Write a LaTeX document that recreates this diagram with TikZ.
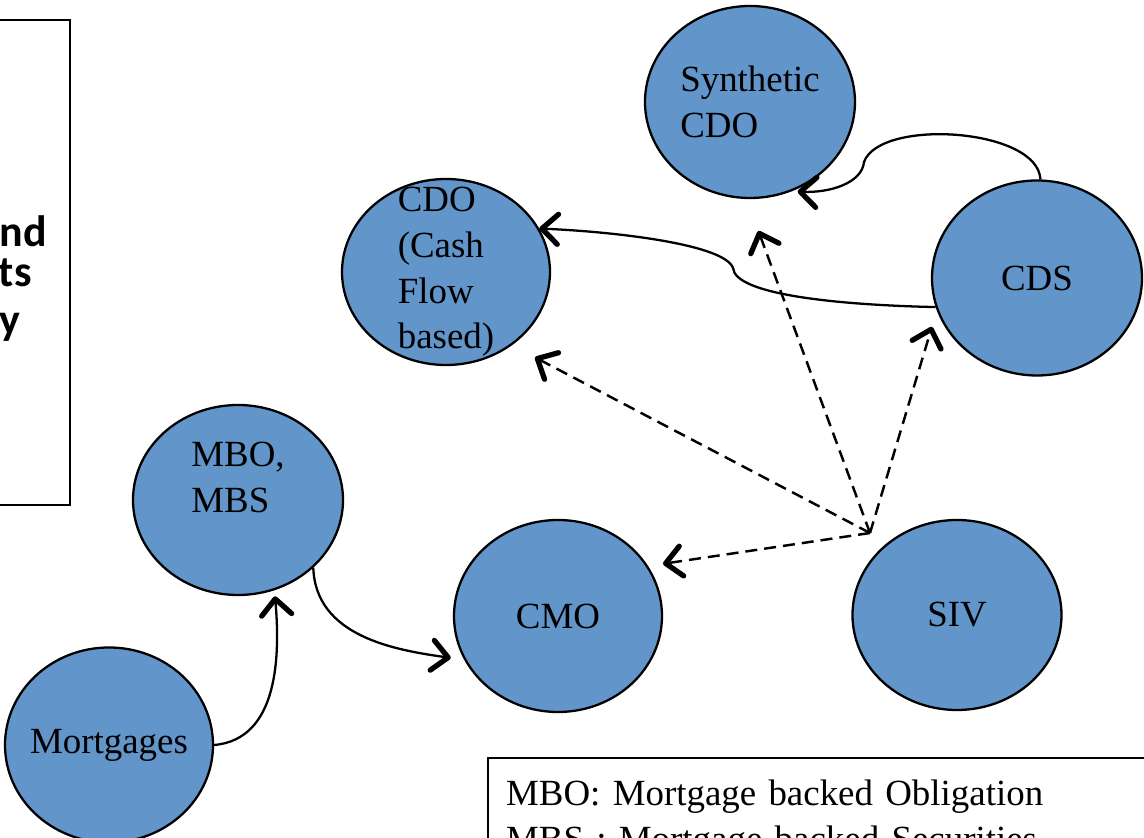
\documentclass[tikz,border=0pt]{standalone}
\usepackage{fontspec}
\setmainfont{Liberation Serif}
\newfontfamily\sidefont{Carlito}
\usepackage{tikz}
\usetikzlibrary{arrows.meta,shapes.geometric}
\definecolor{blobblue}{RGB}{98,149,201}

\begin{document}
\begin{tikzpicture}[
  x=0.2mm,y=0.2mm,
  font=\fontsize{21}{26}\selectfont,
  blob/.style={ellipse,draw=black,line width=1.3pt,fill=blobblue,
    inner sep=-8mm,align=left},
  solidarr/.style={line width=1.3pt,
    -{Straight Barb[length=3.2mm,width=6mm,line width=3pt,round]}},
  dasharr/.style={line width=1.4pt,dash pattern=on 2.4mm off 1.4mm,
    -{Straight Barb[length=3.2mm,width=6mm,line width=3pt,round]}},
  sidetxt/.style={inner sep=0pt,font=\sidefont\bfseries\fontsize{25}{30}\selectfont},
  note/.style={draw=black,line width=1.3pt,text width=125mm,
    inner xsep=3.6mm,inner ysep=4.4mm,align=left},
]
\useasboundingbox (0,0) rectangle (1144,838);
\clip (0,0) rectangle (1144,838);

% bubbles
\node[blob,minimum width=42mm,minimum height=38.4mm](SynCDO)at(750,736){Synthetic\\CDO};
\node[blob,minimum width=41.6mm,minimum height=37.2mm](CDO)at(446,566){CDO\\(Cash\\Flow\\based)};
\node[blob,minimum width=42mm,minimum height=39mm](CDS)at(1037,560){CDS};
\node[blob,minimum width=42mm,minimum height=38mm](MBO)at(238,338){MBO,\\MBS\\~};
\node[blob,minimum width=41.6mm,minimum height=38.4mm](CMO)at(558,222){CMO};
\node[blob,minimum width=41.8mm,minimum height=38mm](SIV)at(957,223){SIV};
\node[blob,minimum width=41.6mm,minimum height=39mm](Mort)at(109,93){Mortgages};

\coordinate (Hub) at (870,305);

% solid links
\draw[solidarr,shorten >=1.2mm] (Mort.east) to[out=5,in=-85] (MBO.-68);
\draw[solidarr,shorten >=2.7mm] (MBO.-42) to[out=-88,in=172] (CMO.205);
\draw[solidarr,shorten >=1.2mm] (CDS.88) .. controls (1038,710) and (880,720) .. (864,676)
  .. controls (862,655) and (830,645) .. (SynCDO.-65);
\draw[solidarr] (CDS.196) .. controls (840,533) and (735,543) .. (733,570)
  .. controls (725,593) and (620,606) .. (CDO.25);

% dashed links
\draw[dasharr,shorten >=6.8mm] (Hub) -- (SynCDO.-92);
\draw[dasharr,shorten >=3.4mm] (Hub) -- (CDS.198);
\draw[dasharr,shorten >=5.2mm] (Hub) -- (CDO.-48);
\draw[dasharr,shorten >=3mm] (Hub) -- (CMO.29);

% side box (cut at the left edge)
\draw[line width=1.3pt] (-30,818) rectangle (70,333);
\node[sidetxt,anchor=base east](SideA)at(47,591){nd};
\node[sidetxt,anchor=base east](SideB)at(32,551){ts};
\node[sidetxt,anchor=base east](SideC)at(21,503){y};

% legend
\node[note,anchor=north west](Note)at(487,81){MBO: Mortgage backed Obligation\\
  MBS : Mortgage backed Securities};
\end{tikzpicture}
\end{document}
